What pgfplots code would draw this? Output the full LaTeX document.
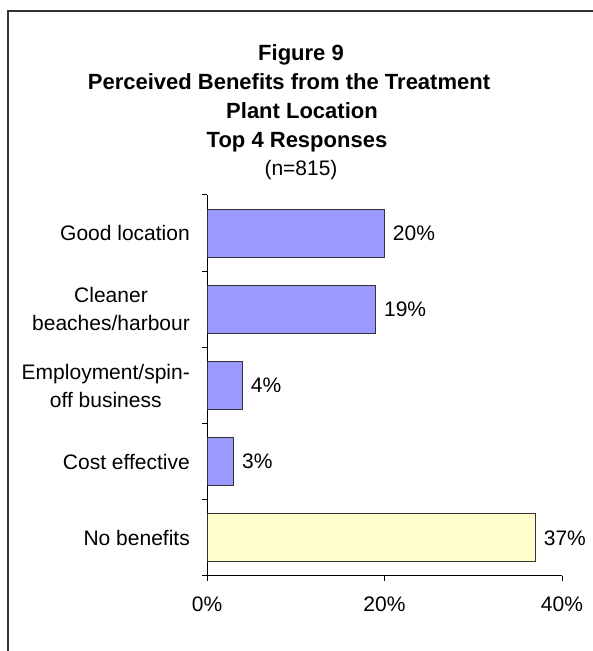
\documentclass[border=0pt]{standalone}
\usepackage{pgfplots}
\pgfplotsset{compat=1.18}
\usepackage{fontspec}
\setmainfont{Liberation Sans}
\definecolor{barblue}{HTML}{9999FF}
\definecolor{baryellow}{HTML}{FFFFCC}
\begin{document}
\fontsize{21bp}{28bp}\selectfont
\begin{tikzpicture}[x=1bp,y=1bp]
\useasboundingbox (0,0) rectangle (593,651);
\draw[line width=1.2bp, black!80] (8,0) -- (8,640) -- (593,640);
\node[anchor=base, font=\bfseries\fontsize{22bp}{28bp}\selectfont] at (301,590) {Figure 9};
\node[anchor=base, font=\bfseries\fontsize{22bp}{28bp}\selectfont] at (289,561.5) {Perceived Benefits from the Treatment};
\node[anchor=base, font=\bfseries\fontsize{22bp}{28bp}\selectfont] at (302,532) {Plant Location};
\node[anchor=base, font=\bfseries\fontsize{22bp}{28bp}\selectfont] at (297,503) {Top 4 Responses};
\node[anchor=base] at (301,475) {(n=815)};
\begin{axis}[
  at={(207bp,75bp)}, anchor=south west, scale only axis,
  width=355bp, height=381bp,
  xmin=0, xmax=40, ymin=-0.5, ymax=4.5,
  axis x line*=bottom, axis y line*=left,
  axis line style={line width=1bp, black},
  xtick={0,20,40},
  xticklabel={\pgfmathprintnumber{\tick}\%},
  ytick={0,1,2,3,4},
  yticklabels={No benefits, Cost effective, {Employment/spin-\\off business}, {Cleaner\\beaches/harbour}, Good location},
  minor ytick={-0.5,0.5,1.5,2.5,3.5,4.5},
  tick align=outside, major tick length=5bp, minor tick length=5bp,
  major y tick style={draw=none},
  tick style={line width=1bp, black},
  yticklabel style={align=center, inner sep=0pt, xshift=-12bp},
  xticklabel style={inner sep=0pt, yshift=-16bp},
  xbar, bar width=48bp, bar shift=0pt,
  nodes near coords={\pgfmathprintnumber{\pgfplotspointmeta}\%},
  nodes near coords align=horizontal,
  every node near coord/.append style={inner sep=0pt, xshift=8bp, black},
  /pgf/number format/assume math mode=true,
  clip=false,
]
\addplot[fill=barblue, draw=black!80, line width=0.9bp] coordinates {(3,1) (4,2) (19,3) (20,4)};
\addplot[fill=baryellow, draw=black!80, line width=0.9bp] coordinates {(37,0)};
\end{axis}
\end{tikzpicture}
\end{document}
